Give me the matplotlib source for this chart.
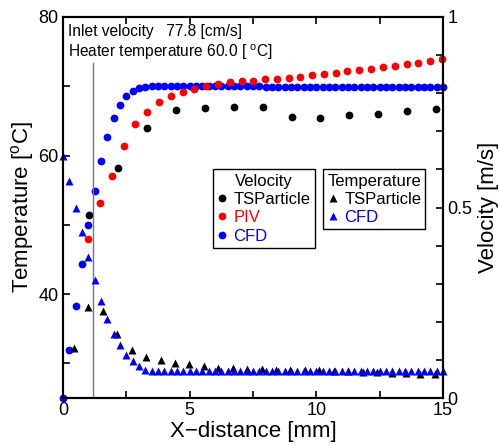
import matplotlib
matplotlib.use("Agg")
import matplotlib.pyplot as plt
import numpy as np
from matplotlib.ticker import MultipleLocator, FixedLocator

plt.rcParams["font.family"] = ["Liberation Sans", "DejaVu Sans"]
plt.rcParams["mathtext.fontset"] = "custom"
plt.rcParams["mathtext.rm"] = "Liberation Sans"

# CFD profiles are sampled on a regular 0.25 mm grid
cfd_x = np.linspace(0.0, 15.0, 61)
cfd_velocity = [
    0.000, 0.126, 0.241, 0.353, 0.454, 0.544, 0.623, 0.686, 0.734, 0.770,
    0.793, 0.807, 0.814, 0.817, 0.818, 0.818, 0.818, 0.818, 0.818, 0.818,
    0.818, 0.818, 0.818, 0.818, 0.818, 0.818, 0.818, 0.818, 0.818, 0.818,
    0.818, 0.818, 0.817, 0.817, 0.817, 0.817, 0.817, 0.817, 0.817, 0.817,
    0.817, 0.817, 0.817, 0.817, 0.817, 0.817, 0.817, 0.816, 0.816, 0.816,
    0.816, 0.816, 0.816, 0.816, 0.816, 0.816, 0.816, 0.816, 0.816, 0.816,
    0.816,
]
cfd_temperature = [
    60.0, 56.3, 52.5, 48.9, 45.3, 42.1, 39.0, 36.4, 34.3, 32.6,
    31.2, 30.3, 29.6, 29.1, 28.9, 28.85, 28.85, 28.85, 28.85, 28.85,
    28.85, 28.85, 28.85, 28.85, 28.85, 28.85, 28.85, 28.85, 28.85, 28.85,
    28.85, 28.85, 28.85, 28.85, 28.85, 28.85, 28.85, 28.85, 28.85, 28.85,
    28.85, 28.85, 28.85, 28.85, 28.85, 28.85, 28.85, 28.85, 28.85, 28.85,
    28.85, 28.85, 28.85, 28.85, 28.85, 28.85, 28.85, 28.85, 28.85, 28.85,
    28.85,
]

piv_x = [
    1.00, 1.47, 1.93, 2.40, 2.86, 3.33, 3.79, 4.26, 4.72, 5.19,
    5.65, 6.12, 6.58, 7.05, 7.51, 7.98, 8.44, 8.91, 9.37, 9.84,
    10.30, 10.77, 11.23, 11.70, 12.16, 12.63, 13.09, 13.56, 14.02, 14.49,
    14.95,
]
piv_velocity = [
    0.417, 0.511, 0.583, 0.662, 0.718, 0.751, 0.777, 0.793, 0.804, 0.812,
    0.818, 0.824, 0.829, 0.831, 0.832, 0.836, 0.838, 0.840, 0.843, 0.847,
    0.850, 0.854, 0.857, 0.860, 0.864, 0.868, 0.872, 0.876, 0.880, 0.884,
    0.889,
]

tsp_vel_x = [1.01, 2.16, 3.30, 4.45, 5.60, 6.74, 7.88, 9.03, 10.16, 11.29,
             12.44, 13.58, 14.73]
tsp_velocity = [0.480, 0.603, 0.708, 0.756, 0.760, 0.765, 0.763, 0.738, 0.734,
                0.742, 0.745, 0.753, 0.759]

tsp_temp_x = [
    0.43, 1.00, 1.57, 2.14, 2.71, 3.28, 3.85, 4.42, 4.99, 5.56,
    6.13, 6.70, 7.27, 7.84, 8.41, 8.98, 9.55, 10.12, 10.69, 11.26,
    11.83, 12.40, 12.97, 13.54, 14.11, 14.68,
]
tsp_temperature = [
    32.2, 38.1, 37.5, 34.2, 32.0, 30.9, 30.5, 30.1, 29.9, 29.6,
    29.4, 29.3, 29.2, 29.2, 29.1, 29.1, 29.0, 29.0, 28.9, 28.9,
    28.8, 28.7, 28.6, 28.6, 28.5, 28.5,
]

HEATER_EDGE = 1.2  # mm, end of the heated section

fig = plt.figure(figsize=(5.0, 4.46), dpi=100)
ax = fig.add_axes([0.126, 0.1076, 0.76, 0.8543])
ax2 = ax.twinx()
# temperature markers sit above the velocity ones
ax.set_zorder(ax2.get_zorder() + 1)
ax.patch.set_visible(False)

ms = 5.6
v_cfd, = ax2.plot(cfd_x, cfd_velocity, "o", color="blue", ms=ms, mec="none", clip_on=False)
v_piv, = ax2.plot(piv_x, piv_velocity, "o", color="red", ms=ms, mec="none", clip_on=False)
v_tsp, = ax2.plot(tsp_vel_x, tsp_velocity, "o", color="black", ms=ms, mec="none", clip_on=False)

t_tsp, = ax.plot(tsp_temp_x, tsp_temperature, "^", color="black", ms=ms + 0.8, mec="none", clip_on=False)
t_cfd, = ax.plot(cfd_x, cfd_temperature, "^", color="blue", ms=ms + 0.8, mec="none", clip_on=False)

ax.axvline(HEATER_EDGE, ymin=0, ymax=0.88, color="#777777", lw=1.0, zorder=0)

ax.set_xlim(0, 15)
ax.set_ylim(25, 80)
ax2.set_ylim(0, 1)

ax.xaxis.set_major_locator(FixedLocator([0, 5, 10, 15]))
ax.xaxis.set_minor_locator(MultipleLocator(2.5))
ax.yaxis.set_major_locator(FixedLocator([40, 60, 80]))
ax.yaxis.set_minor_locator(FixedLocator([30, 50, 70]))
ax2.yaxis.set_major_locator(FixedLocator([0, 0.5, 1]))
ax2.yaxis.set_minor_locator(MultipleLocator(0.1))
ax2.set_yticklabels(["0", "0.5", "1"])

for a in (ax, ax2):
    for s in a.spines.values():
        s.set_linewidth(1.5)
ax.tick_params(which="both", direction="in", top=True, right=False,
               width=1.2, length=5, labelsize=13, pad=3)
ax2.tick_params(which="both", direction="in", width=1.2, length=5, labelsize=13, pad=3)

ax.set_xlabel("X\u2212distance [mm]", fontsize=16, labelpad=1)
ax.set_ylabel(r"Temperature [$^{\rm o}$C]", fontsize=16, labelpad=2)
ax2.set_ylabel("Velocity [m/s]", fontsize=16, labelpad=4)

ax.text(0.013, 0.963, "Inlet velocity   77.8 [cm/s]", transform=ax.transAxes,
        fontsize=11.2, va="center", ha="left")
ax.text(0.013, 0.908, r"Heater temperature 60.0 [ $^{\rm o}$C]", transform=ax.transAxes,
        fontsize=11.2, va="center", ha="left")

leg_kw = dict(fontsize=12, title_fontsize=12, frameon=True, fancybox=False,
              edgecolor="black", framealpha=1, borderpad=0.25, labelspacing=0.2,
              handlelength=0.6, handletextpad=0.4, borderaxespad=0, loc="upper left")

leg_v = ax.legend([v_tsp, v_piv, v_cfd], ["TSParticle", "PIV", "CFD"],
                  title="Velocity", bbox_to_anchor=(0.394, 0.600), **leg_kw)
for txt, c in zip(leg_v.get_texts(), ["black", "red", "blue"]):
    txt.set_color(c)
leg_v.get_frame().set_linewidth(1.0)
ax.add_artist(leg_v)

leg_t = ax.legend([t_tsp, t_cfd], ["TSParticle", "CFD"],
                  title="Temperature", bbox_to_anchor=(0.685, 0.600), **leg_kw)
for txt, c in zip(leg_t.get_texts(), ["black", "blue"]):
    txt.set_color(c)
leg_t.get_frame().set_linewidth(1.0)

fig.savefig("out.png", dpi=100)
